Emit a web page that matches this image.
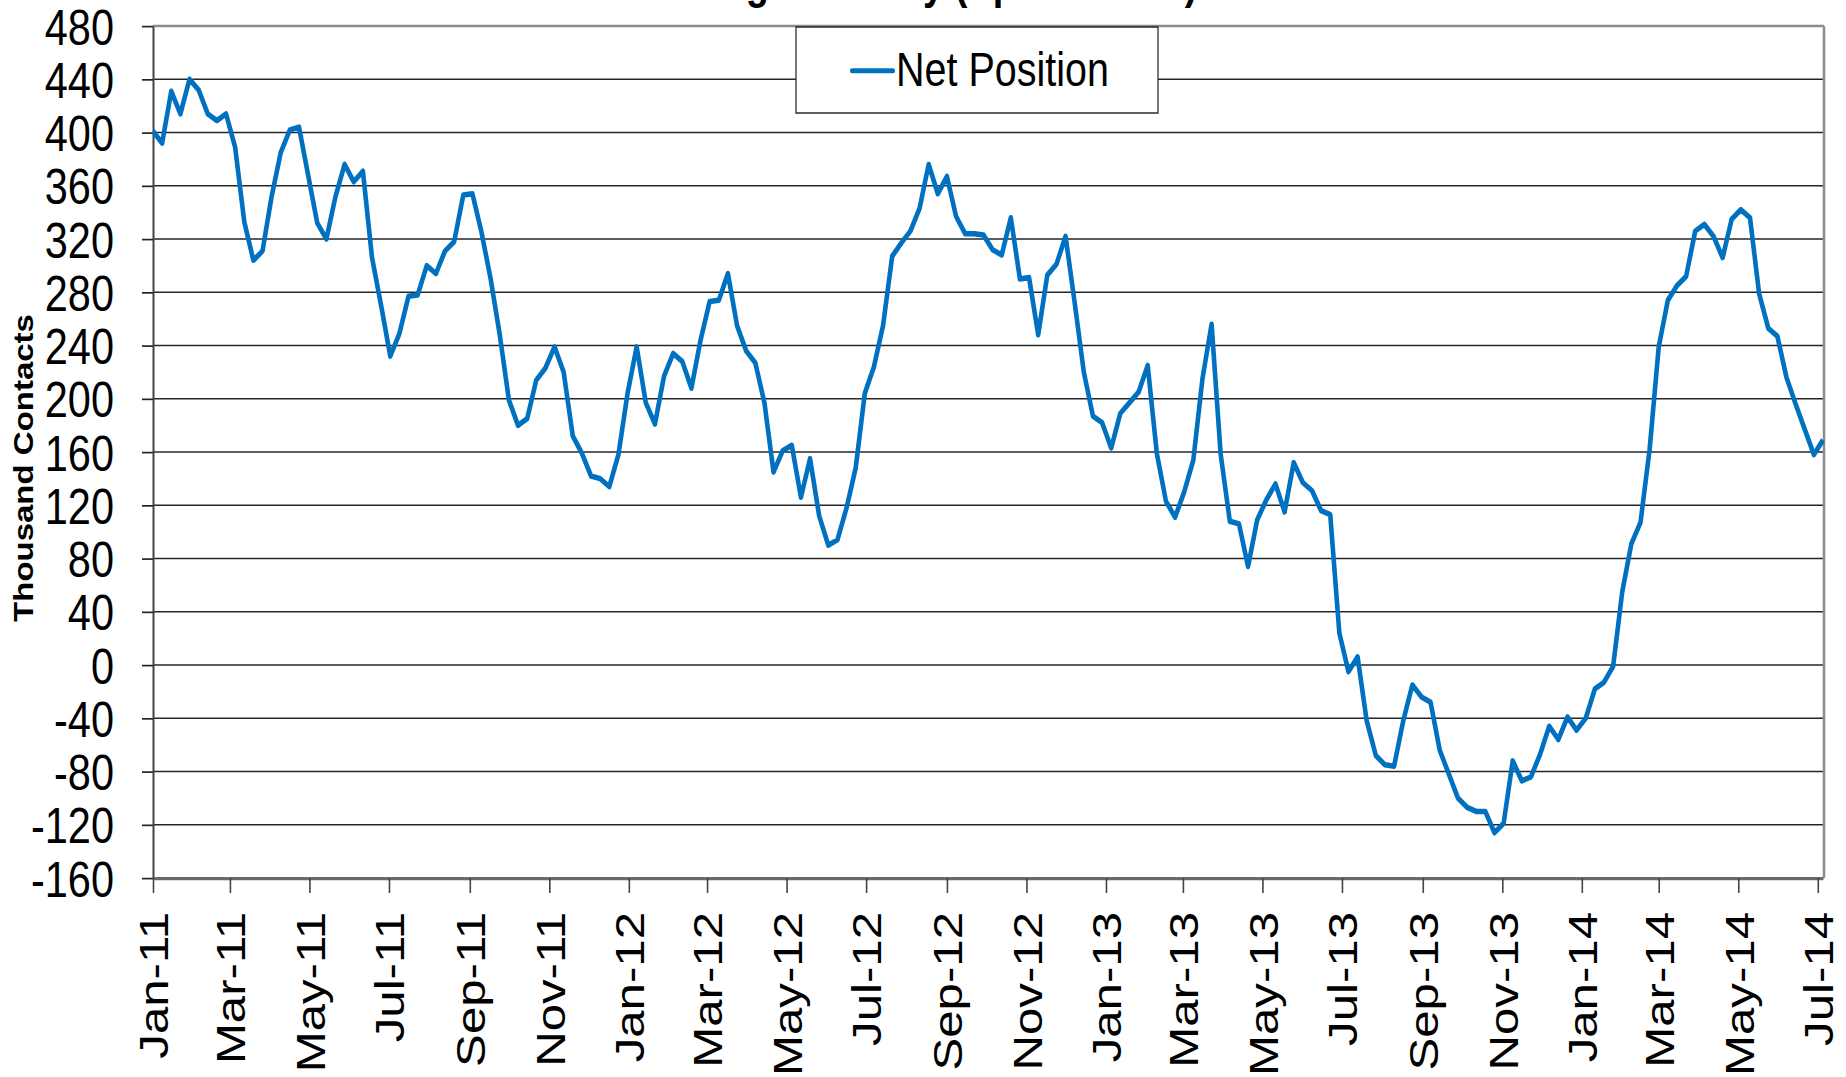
<!DOCTYPE html>
<html>
<head>
<meta charset="utf-8">
<title>Managed Money (Speculators)</title>
<script src="https://cdn.jsdelivr.net/npm/d3@7"></script>
<style>
  body { margin: 0; background: #fff; }
  svg { display: block; }
  text { font-family: "Liberation Sans", Arial, sans-serif; fill: #000; }
</style>
</head>
<body>
<div id="chart"></div>
<script>
// weekly net position (thousand contracts), one report every tuesday
let firstReport = "2011-01-04";
let pos2011 = [401, 392, 431, 414, 440, 432, 414, 409, 414, 389,
  333, 304, 311, 352, 385, 402, 404, 368, 332, 320,
  352, 376, 363, 371, 306, 270, 232, 249, 277, 278,
  300, 294, 311, 318, 353, 354, 325, 290, 248, 199,
  180, 185, 214, 223, 239, 220, 172, 159, 142, 140,
  134, 158];
let pos2012 = [204, 239, 197, 181, 217, 234, 228, 208, 244, 273,
  274, 294, 255, 236, 227, 197, 145, 161, 165, 126,
  155, 112, 90, 94, 118, 148, 204, 224, 255, 307,
  317, 326, 343, 376, 354, 367, 337, 324, 324, 323,
  312, 308, 336, 290, 291, 248, 293, 301, 322, 272,
  220, 187];
let pos2013 = [182, 163, 189, 197, 205, 225, 159, 123, 111, 130,
  154, 215, 256, 158, 108, 106, 74, 109, 124, 136,
  115, 152, 137, 131, 116, 113, 24, -5, 6, -42,
  -68, -75, -76, -42, -15, -24, -28, -64, -82, -100,
  -107, -110, -110, -126, -119, -72, -87, -84, -67, -46,
  -56, -39, -49];
let pos2014 = [-40, -18, -13, -1, 55, 91, 107, 162, 239, 274,
  285, 292, 326, 331, 322, 306, 335, 342, 336, 279,
  253, 247, 216, 196, 177, 158, 169];

let yTicks = [-160, -120, -80, -40, 0, 40, 80, 120, 160, 200, 240, 280, 320, 360, 400, 440, 480];
let xTickLabels = ["Jan-11", "Mar-11", "May-11", "Jul-11", "Sep-11", "Nov-11",
  "Jan-12", "Mar-12", "May-12", "Jul-12", "Sep-12", "Nov-12",
  "Jan-13", "Mar-13", "May-13", "Jul-13", "Sep-13", "Nov-13",
  "Jan-14", "Mar-14", "May-14", "Jul-14"];

let width = 1846,
  height = 1077;
// the picture was stretched vertically, so draw in a squashed box and let the viewBox stretch it back
let stretch = 1.2;
let vh = height / stretch;

let plotLeft = 153,
  plotRight = 1823,
  plotTop = 26 / stretch,
  plotBottom = 878 / stretch;

let values = pos2011.concat(pos2012, pos2013, pos2014);
let start = d3.timeParse("%Y-%m-%d")(firstReport);
let data = values.map((v, i) => ({ date: d3.timeDay.offset(start, 7 * i), value: v }));

// excel puts the major ticks on the same day of month as the axis minimum
let parseLabel = d3.timeParse("%b-%y");
let tickDates = xTickLabels.map((s) => d3.timeDay.offset(parseLabel(s), 3));

let svg = d3
  .select("#chart")
  .append("svg")
  .attr("width", width)
  .attr("height", height)
  .attr("viewBox", "0 0 " + width + " " + vh)
  .attr("preserveAspectRatio", "none");

let x = d3
  .scaleTime()
  .domain([data[0].date, data[data.length - 1].date])
  .range([plotLeft, plotRight]);

let y = d3
  .scaleLinear()
  .domain([-160, 480])
  .range([plotBottom, plotTop]);

//title, only the tails of it are inside the picture
svg
  .append("text")
  .attr("x", width / 2)
  .attr("y", -1.5)
  .attr("text-anchor", "middle")
  .style("font-size", "38px")
  .style("font-weight", "bold")
  .text("Managed Money (Speculators)");

//horizontal grid
svg
  .append("g")
  .selectAll("line")
  .data(yTicks.filter((d) => d > -160 && d < 480))
  .enter()
  .append("line")
  .attr("x1", plotLeft)
  .attr("x2", plotRight + 1)
  .attr("y1", (d) => y(d))
  .attr("y2", (d) => y(d))
  .style("stroke", "#262626")
  .style("stroke-width", 1.4);

//plot border top and right
svg
  .append("line")
  .attr("x1", plotLeft)
  .attr("x2", plotRight + 1)
  .attr("y1", y(480))
  .attr("y2", y(480))
  .style("stroke", "#8c8c8c")
  .style("stroke-width", 2);
svg
  .append("line")
  .attr("x1", plotRight + 1)
  .attr("x2", plotRight + 1)
  .attr("y1", y(480))
  .attr("y2", y(-160))
  .style("stroke", "#8c8c8c")
  .style("stroke-width", 2.5);

//y axis
let yAxis = svg
  .append("g")
  .attr("transform", "translate(" + plotLeft + ",0)")
  .call(
    d3
      .axisLeft(y)
      .tickValues(yTicks)
      .tickFormat((d) => String(d))
      .tickSize(11)
      .tickSizeOuter(0)
      .tickPadding(28)
  );
yAxis.select(".domain").style("stroke", "#444").style("stroke-width", 2);
yAxis.selectAll(".tick line").style("stroke", "#222").style("stroke-width", 1.4);
yAxis
  .selectAll("text")
  .style("font-size", "41.5px")
  .style("font-family", '"Liberation Sans", Arial, sans-serif')
  .attr("dy", "0.36em");

//x axis
let xAxis = svg
  .append("g")
  .attr("transform", "translate(0," + plotBottom + ")")
  .call(
    d3
      .axisBottom(x)
      .tickValues(tickDates)
      .tickFormat(d3.timeFormat("%b-%y"))
      .tickSize(12.5)
      .tickSizeOuter(0)
  );
xAxis.select(".domain").style("stroke", "#6a6a6a").style("stroke-width", 2.6);
xAxis.selectAll(".tick line").style("stroke", "#444").style("stroke-width", 1.6);
xAxis
  .selectAll("text")
  .attr("transform", "rotate(-90)")
  .attr("text-anchor", "end")
  .attr("x", -(760 - plotBottom))
  .attr("y", 0)
  .attr("dy", "0.36em")
  .style("font-size", "41px")
  .style("font-family", '"Liberation Sans", Arial, sans-serif');

//axis title
svg
  .append("text")
  .attr("transform", "translate(23," + 468 / stretch + ") rotate(-90)")
  .attr("text-anchor", "middle")
  .attr("dy", "0.36em")
  .style("font-size", "27.5px")
  .style("font-weight", "bold")
  .text("Thousand Contacts");

//the series
let line = d3
  .line()
  .x((d) => x(d.date))
  .y((d) => y(d.value));

svg
  .append("path")
  .datum(data)
  .attr("d", line)
  .style("fill", "none")
  .style("stroke", "#0070c0")
  .style("stroke-width", 4.6)
  .style("stroke-linejoin", "round");

//legend
let legend = svg.append("g");
legend
  .append("rect")
  .attr("x", 796)
  .attr("y", 27 / stretch)
  .attr("width", 362)
  .attr("height", 86 / stretch)
  .style("fill", "#fff")
  .style("stroke", "#222")
  .style("stroke-width", 1.2);
legend
  .append("line")
  .attr("x1", 852)
  .attr("x2", 893)
  .attr("y1", 70.7 / stretch)
  .attr("y2", 70.7 / stretch)
  .style("stroke", "#0070c0")
  .style("stroke-width", 4.2)
  .style("stroke-linecap", "round");
legend
  .append("text")
  .attr("x", 896)
  .attr("y", 86 / stretch)
  .style("font-size", "39.5px")
  .text("Net Position");
</script>
</body>
</html>
